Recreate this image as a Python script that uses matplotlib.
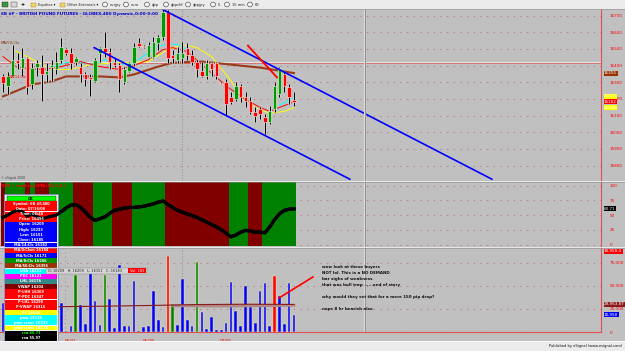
import matplotlib
matplotlib.use("Agg")
import matplotlib.pyplot as plt
import numpy as np
from matplotlib.patches import Rectangle, Circle
from matplotlib.lines import Line2D

# ---------------- data ----------------
dates = ["06/21", "06/28", "07/05"]
date_idx = [14, 30, 46]

opens = [16335, 16275, 16335, 16436, 16388, 16448, 16287, 16394, 16394, 16347,
         16394, 16377, 16436, 16502, 16478, 16424, 16394, 16347, 16329, 16305,
         16478, 16508, 16484, 16424, 16406, 16299, 16365, 16418, 16538, 16520,
         16454, 16454, 16538, 16574, 16724, 16466, 16436, 16448, 16508, 16466,
         16424, 16365, 16335, 16418, 16418, 16296, 16299, 16209, 16197, 16275,
         16209, 16185, 16119, 16137, 16089, 16059, 16137, 16227, 16347, 16269,
         16191]
highs = [16347, 16359, 16526, 16478, 16508, 16454, 16418, 16436, 16466, 16418,
         16436, 16484, 16568, 16508, 16508, 16454, 16418, 16359, 16347, 16448,
         16514, 16604, 16508, 16448, 16418, 16394, 16424, 16538, 16568, 16526,
         16544, 16574, 16586, 16736, 16736, 16496, 16514, 16544, 16538, 16496,
         16436, 16424, 16436, 16424, 16424, 16299, 16317, 16239, 16299, 16287,
         16239, 16209, 16149, 16149, 16107, 16155, 16299, 16394, 16359, 16287,
         16239]
lows = [16239, 16227, 16329, 16377, 16335, 16227, 16257, 16335, 16185, 16299,
        16305, 16347, 16418, 16466, 16377, 16406, 16299, 16275, 16215, 16299,
        16424, 16454, 16377, 16394, 16239, 16287, 16359, 16406, 16514, 16508,
        16448, 16448, 16496, 16556, 16418, 16418, 16418, 16418, 16436, 16406,
        16329, 16329, 16317, 16335, 16317, 16287, 16095, 16167, 16185, 16179,
        16149, 16107, 16059, 16077, 15987, 16047, 16119, 16209, 16239, 16167,
        16155]
closes = [16293, 16335, 16436, 16418, 16448, 16269, 16388, 16418, 16347, 16365,
          16406, 16424, 16514, 16478, 16418, 16448, 16347, 16317, 16317, 16436,
          16508, 16484, 16424, 16406, 16317, 16377, 16418, 16514, 16520, 16514,
          16526, 16544, 16574, 16724, 16448, 16448, 16478, 16478, 16466, 16424,
          16377, 16335, 16418, 16377, 16335, 16290, 16167, 16179, 16275, 16209,
          16185, 16119, 16095, 16107, 16059, 16125, 16275, 16388, 16275, 16209,
          16182]

volumes = [32000, 20000, 45000, 15000, 60000, 10000, 38000, 25000, 8000, 50000,
           12000, 30000, 31850, 1500, 6500, 62000, 29300, 8700, 64500, 34000,
           7600, 62000, 35900, 4700, 72800, 6500, 6000, 55800, 1400, 5400,
           6000, 44900, 13000, 5800, 82900, 30400, 7600, 57300, 13000, 6500,
           76400, 22100, 3300, 16600, 2200, 2200, 10100, 54000, 22800, 6800,
           50300, 27500, 9500, 44900, 52900, 6800, 60900, 39100, 8400, 53600,
           18958]
vol_colors = "bbbbbbbbbb" "bbbbbgbbbb" "bgbbbbbbbb" "bbbbrgbbbb" "gbbbbbbbbb" "bbbbbbrbbb" "b"

rsi = [46, 50, 55, 58, 56, 48, 52, 47, 44, 46, 48,
       50, 56, 62, 67, 68, 63, 55, 46, 41, 44,
       47, 53, 58, 60, 62, 63, 63, 64, 65, 67,
       69, 72, 74, 68, 63, 58, 55, 52, 49, 46,
       42, 38, 34, 30, 25, 19, 13, 16, 21, 24,
       23, 21, 21, 20, 30, 42, 52, 58, 60, 60.71]
rsi_state = "0111101000111110000111100001111111000000000000011110001111111"

ma50_idx = [0, 6, 10, 13, 16, 20, 24, 27, 32, 35, 41, 47, 53, 60]
ma50_val = [16215, 16287, 16305, 16335, 16335, 16335, 16329, 16347, 16394, 16418,
            16424, 16406, 16388, 16355]
red_ma_idx = [0, 3, 8, 12, 16, 20, 24, 27, 30, 33, 35, 38, 41, 44, 47, 50, 53, 55, 57, 60]
red_ma_val = [16454, 16388, 16377, 16394, 16424, 16394, 16377, 16400, 16436, 16496,
              16508, 16484, 16406, 16329, 16257, 16197, 16149, 16125, 16149, 16182]
yellow_idx = [2, 5, 10, 14, 18, 24, 30, 34, 37, 40, 43, 46, 49, 52, 55, 58, 60]
yellow_val = [16496, 16454, 16377, 16377, 16406, 16418, 16424, 16496, 16526, 16508,
              16454, 16347, 16227, 16149, 16113, 16125, 16148]
cyan_idx = [10, 13, 16, 19, 21, 24, 27, 30, 32, 34, 36, 38, 55, 57, 60]
cyan_val = [16388, 16418, 16418, 16406, 16436, 16406, 16418, 16478, 16514, 16532,
            16526, 16496, None, 16161, 16209]

vol_ma_idx = [11, 20, 30, 40, 50, 60]
vol_ma_val = [27500, 28000, 28800, 29800, 30200, 29953.87]
vol_ma2_idx = [35, 45, 55, 60]
vol_ma2_val = [28500, 28200, 28600, 29000]

chan_upper = ([33.0, 100.8], [16736, 15718])
chan_lower = ([18.8, 71.5], [16508, 15718])
red_trend = ([50.5, 56.5], [16520, 16329])
vol_trend = ([56.9, 63.9], [36960, 59800])
cursor_idx, cursor_price = 74.6, 16415
price_ticks = [15800, 15900, 16000, 16100, 16200, 16300, 16400, 16500, 16600, 16700]

title = "6B #F - BRITISH POUND FUTURES - GLOBEX,480 Dynamic,0:00-0:00"
notes = ["wow look at these buyers",
         "NOT lol. This is a NO DEMAND",
         "bar sighs of weakness",
         "that was bull trap ......end of story",
         "",
         "why would they set that for a mere 150 pip drop?",
         "",
         "nope 8 hr bearish also"]
data_rows = [("OK", "", "#00ff00", "black"),
             ("Symbol:", "6B #F,480", "#ff0000", "white"),
             ("Date:", "07/16/08", "#ff0000", "white"),
             ("Time:", "08:48", "#ff0000", "white"),
             ("Price:", "16496", "#ff0000", "white"),
             ("Open:", "16209", "#0000ff", "white"),
             ("High:", "16233", "#0000ff", "white"),
             ("Low:", "16151", "#0000ff", "white"),
             ("Close:", "16185", "#0000ff", "white"),
             ("MA/14:Cls", "16182", "#0000ff", "white"),
             ("MA/4:Clsm", "16184", "#ff0000", "white"),
             ("MA/5:Cls", "16171", "#0000ff", "white"),
             ("MA/8:Cls", "16206", "#009000", "white"),
             ("MA/50:Cls", "16355", "#993300", "white"),
             ("LHA", "16251", "#00ffff", "white"),
             ("PDC", "16121", "#ff00ff", "white"),
             ("LHL", "16176", "#338888", "white"),
             ("VWAP", "16204", "#800000", "white"),
             ("P-LHH", "16369", "#ff0000", "white"),
             ("P-PDC", "16347", "#ff0000", "white"),
             ("P-LHL", "16298", "#ff0000", "white"),
             ("P-VWAP", "16316", "#ff0000", "white"),
             ("PL", "16026", "#ffff00", "white"),
             ("pmu", "16129", "#00ffff", "white"),
             ("pmu cross", "16215", "#00ffff", "white"),
             ("pmu cross", "16178", "#ffff00", "white"),
             ("rsa", "60.71", "#000000", "#00ff00"),
             ("rsa", "55.97", "#000000", "white")]
toolbar_items = ["eurjpy", "euro", "gbp", "gbpchf", "gbpjpy", "5", "15 min", "60"]

# ---------------- layout ----------------
W, H = 625, 351
BG = "#c0c0c0"
fig = plt.figure(figsize=(W / 100, H / 100), dpi=100)
fig.patch.set_facecolor(BG)


def rect(x0, y0, x1, y1):
    return [x0 / W, 1 - y1 / H, (x1 - x0) / W, (y1 - y0) / H]


XL = (-0.62, 123.3)
RSI_YL = (-2.55, 106.3)
ax_p = fig.add_axes(rect(0, 9, 601, 181))
ax_r = fig.add_axes(rect(0, 182, 601, 246))
ax_v = fig.add_axes(rect(0, 248, 601, 332))
for ax in (ax_p, ax_r, ax_v):
    ax.set_facecolor(BG)
    ax.set_xlim(*XL)
    for s in ("left", "top", "bottom"):
        ax.spines[s].set_visible(False)
    ax.spines["right"].set_color("#e05050")
    ax.spines["right"].set_linewidth(0.8)
    ax.tick_params(axis="y", left=False, labelleft=False, right=False,
                   labelright=True, pad=3, labelsize=3.0, labelcolor="#ff0000")
    ax.tick_params(axis="x", bottom=False, labelbottom=False)
    ax.grid(axis="y", color="#c07070", linestyle=(0, (1, 5)), lw=0.8)
    ax.set_axisbelow(True)
    ax.axvline(12.8, color="#8a8a8a", linestyle=(0, (1, 4)), lw=0.6, zorder=1)
    ax.axvline(36.9, color="#8a8a8a", linestyle=(0, (2, 2)), lw=0.5, zorder=1)

idx = np.arange(len(closes))
o = np.array(opens, float)
c = np.array(closes, float)
h = np.array(highs, float)
lo = np.array(lows, float)

# ---- price pane ----
ax_p.set_ylim(15707, 16740)
ax_p.set_yticks(price_ticks, [str(t) for t in price_ticks])
ax_p.axhline(cursor_price, color="#e6e6e6", lw=1.4, zorder=2)
ax_p.axhline(cursor_price, color="#d06060", lw=0.6, zorder=2)

ax_p.plot(ma50_idx, ma50_val, color="#9c3a1a", lw=1.5, zorder=3)
ax_p.plot(yellow_idx, yellow_val, color="#ffff00", lw=0.7, zorder=3)
ax_p.plot(cyan_idx, np.array(cyan_val, dtype=float), color="#00ffff", lw=0.7, zorder=3)
ax_p.plot(red_ma_idx, red_ma_val, color="#ff0000", lw=0.7, zorder=3)

ax_p.vlines(idx, lo, h, color="#e8e8e8", lw=2.3, zorder=4)
ax_p.vlines(idx, lo, h, color="black", lw=0.9, zorder=5)
up = c >= o
body_lo = np.minimum(o, c)
body_h = np.maximum(np.abs(c - o), 4)
ax_p.bar(idx, body_h, bottom=body_lo, width=0.72,
         color=np.where(up, "#009a00", "#ff0000"), edgecolor="#f2f2f2",
         lw=0.4, zorder=6)

ax_p.plot(*chan_upper, color="#0000ff", lw=1.2, zorder=7)
ax_p.plot(*chan_lower, color="#0000ff", lw=1.2, zorder=7)
ax_p.plot(*red_trend, color="#ff0000", lw=1.3, zorder=7)

ytr = ax_p.get_yaxis_transform()
for val, fc, tc in [(yellow_val[-1], "#ffff00", "white"),
                    (16215, "#ffff00", "white"),
                    (closes[-1], "#ff0000", "white"),
                    (ma50_val[-1], "#993300", "white")]:
    ax_p.text(1.005, val, f"{val:.0f}", transform=ytr, fontsize=3.0, color=tc,
              ha="left", va="center", clip_on=False, zorder=20,
              bbox=dict(boxstyle="square,pad=0.12", fc=fc, ec="none"))

# ---- RSI pane ----
ax_r.set_ylim(*RSI_YL)
ax_r.set_yticks([0, 25, 50, 75, 100], ["0", "25", "50", "75", "100"])
for k in range(len(idx)):
    ax_r.axvspan(idx[k] - 0.5, idx[k] + 0.5,
                 color="#008000" if rsi_state[k] == "1" else "#800000", lw=0, zorder=1.5)
rsi_arr = np.array(rsi, dtype=float)
ax_r.plot(idx, rsi_arr, color="black", lw=2.4, zorder=12)
ax_r.text(1.005, rsi[-1], f"{rsi[-1]:.2f}", transform=ax_r.get_yaxis_transform(),
          fontsize=3.0, color="white", ha="left", va="center", clip_on=False,
          zorder=20, bbox=dict(boxstyle="square,pad=0.12", fc="black", ec="none"))

# ---- volume pane ----
ax_v.set_ylim(0, 91300)
ax_v.set_yticks([0, 25000, 50000, 75000], ["0", "25,000", "50,000", "75,000"])
ax_v.spines["bottom"].set_visible(True)
ax_v.spines["bottom"].set_color("#e05050")
ax_v.spines["bottom"].set_linewidth(0.8)
cmap = {"b": "#0000ff", "g": "#008000", "r": "#ff0000"}
ax_v.bar(idx, volumes, width=0.55, color=[cmap[k] for k in vol_colors],
         edgecolor="#f4f0b0", lw=0.3, zorder=3)
ax_v.plot(vol_ma2_idx, vol_ma2_val, color="#b08888", lw=2.0, zorder=4)
ax_v.plot(vol_ma_idx, vol_ma_val, color="#8b1a1a", lw=0.8, zorder=4)
ax_v.plot(*vol_trend, color="#ff0000", lw=1.2, zorder=5)
ax_v.set_xticks(date_idx, dates)
ax_v.tick_params(axis="x", labelbottom=True, labelsize=3.0, labelcolor="#ff0000", pad=1.2)
vtr = ax_v.get_yaxis_transform()
for val, txt, fc in [(vol_ma_val[-1], f"{vol_ma_val[-1]:,.2f}", "#8b1a1a"),
                     (volumes[-1], f"{volumes[-1]:,}", "#0000ff"),
                     (87500, f"{volumes[-1]:,.1f}", "#ff0000")]:
    ax_v.text(1.005, val, txt, transform=vtr, fontsize=3.0, color="white",
              ha="left", va="center", clip_on=False, zorder=20,
              bbox=dict(boxstyle="square,pad=0.12", fc=fc, ec="none"))

# crosshair vertical through all panes (own transparent layer)
ax_cx = fig.add_axes(rect(0, 9, 601, 332), zorder=4)
ax_cx.set_xlim(*XL)
ax_cx.set_ylim(0, 1)
ax_cx.axis("off")
ax_cx.axvline(cursor_idx, color="#b8e8e8", lw=1.6)
ax_cx.axvline(cursor_idx, color="#c05050", lw=0.5)

# ---------------- overlay (pixel coordinates) ----------------
ov = fig.add_axes([0, 0, 1, 1], zorder=10)
ov.set_xlim(0, W)
ov.set_ylim(H, 0)
ov.axis("off")

# RSI line again on the top layer, positioned through the RSI axes' data transform
for off, lw in [(0.0, 2.2), (1.6, 0.7), (-1.6, 0.7)]:
    ln = Line2D(idx, rsi_arr + off, color="black", lw=lw, transform=ax_r.transData)
    ln.set_clip_box(ax_r.bbox)
    ov.add_artist(ln)

# toolbar
ov.add_patch(Rectangle((0, 0), W, 9, fc="#ebebeb", ec="none"))
ov.plot([0, W], [9, 9], color="#9a9a9a", lw=0.5)
ov.add_patch(Rectangle((2, 2), 6, 5, fc="#3c9a3c", ec="#202020", lw=0.3))
ov.add_patch(Rectangle((11, 2), 6, 5, fc="#d8d8d8", ec="#404040", lw=0.3))
ov.text(23, 4.6, "+", fontsize=3.5, fontweight="bold", ha="center", va="center")
for fx, lab in [(31, "Equities \u25be"), (60, "Other Externals \u25be")]:
    ov.add_patch(Rectangle((fx, 2.5), 5, 4, fc="#f2d36b", ec="#a08020", lw=0.3))
    ov.text(fx + 7, 4.6, lab, fontsize=2.6, ha="left", va="center", color="#202020")
for cx, lab in zip([105, 126, 147, 166, 188, 213, 227, 250], toolbar_items):
    ov.add_patch(Circle((cx, 4.5), 2.4, fc="#f6f6f6", ec="#303030", lw=0.4))
    ov.text(cx + 4.5, 4.6, lab, fontsize=2.6, ha="left", va="center", color="#202020")

# titles / labels
ov.text(1, 13.5, title, fontsize=3.0, fontweight="bold", color="#0000cc", ha="left", va="center")
ov.text(1, 43, "MA/50,Cls", fontsize=2.8, color="#8b2a10", ha="left", va="center")
ov.text(9, 77, "MA/14,Cls", fontsize=2.6, color="#ff0000", ha="left", va="center")
ov.text(1, 177.5, "\u00a9 eSignal 2008", fontsize=2.2, color="#404040", ha="left", va="center")
ov.text(1, 185.5, "RSX + trailing SMA(10,2,0,)", fontsize=3.0, fontweight="bold",
        color="#ff0000", ha="left", va="center")

# pane separators
for yy in (181.5, 247.2):
    ov.plot([0, W], [yy - 0.5, yy - 0.5], color="#f0f0f0", lw=0.6)
    ov.plot([0, W], [yy + 0.5, yy + 0.5], color="#8c8c8c", lw=0.4)

# data window
ov.add_patch(Rectangle((4, 193.5), 54, 148, fc="#f4f4f4", ec="#7080c0", lw=0.5))
row_h = 5.18
for k, (lab, val, bg, fg) in enumerate(data_rows):
    yy = 196 + k * row_h
    if k == 0:
        ov.add_patch(Rectangle((7, yy + 0.3), 49, row_h - 0.8, fc=bg, ec="#202020", lw=0.3))
    else:
        ov.add_patch(Rectangle((5.3, yy), 51.4, row_h - 0.2, fc=bg, ec="none"))
    ov.text(31, yy + row_h / 2, f"{lab} {val}".strip(), fontsize=2.5, fontweight="bold",
            color=fg, ha="center", va="center")

# OHLC tooltip
ov.add_patch(Rectangle((46, 267.5), 101, 6.5, fc="#d4d4d4", ec="#808080", lw=0.3))
ov.text(48, 270.8, "O: 16209   H: 16209   L: 16151   C: 16183", fontsize=2.5,
        color="#202020", ha="left", va="center")
ov.add_patch(Rectangle((128, 268.2), 18, 5.2, fc="#ff0000", ec="none"))
ov.text(137, 270.8, "Vol: 183", fontsize=2.5, color="white", ha="center", va="center")

# notes
for k, line in enumerate(notes):
    if line:
        ov.text(322, 267 + k * 6.0, line, fontsize=2.9, fontweight="bold",
                color="#101010", ha="left", va="center")

# bottom status bar
ov.add_patch(Rectangle((0, 341), W, 10, fc="#ebebeb", ec="none"))
ov.plot([0, W], [341, 341], color="#ffffff", lw=0.6)
ov.text(622, 346.5, "Published by eSignal (www.esignal.com)", fontsize=2.6,
        color="#101010", ha="right", va="center")

fig.savefig("out.png", dpi=100, facecolor=BG)
